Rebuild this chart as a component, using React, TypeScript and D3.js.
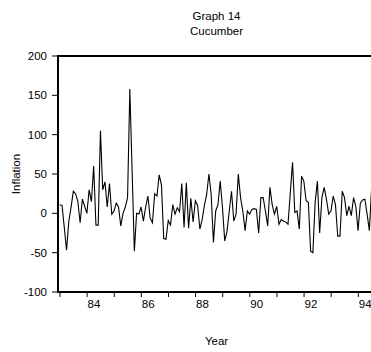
import React from "react";
import * as d3 from "d3";

const titleLines = ["Graph 14", "Cucumber"];
const yLabel = "Inflation";
const xLabel = "Year";
const startYear = 1983;
const yTicks = [-100, -50, 0, 50, 100, 150, 200];
const xMinorYears = [1983, 1984, 1985, 1986, 1987, 1988, 1989, 1990, 1991, 1992, 1993, 1994];
const xLabelYears = [1984, 1986, 1988, 1990, 1992, 1994];

const inflation = [
  11, 10, -18, -47, -10, 8, 28, 25, 15, -12, 18, 9, 0, 30, 15, 60, -15, -15, 105, 30,
  40, 8, 38, -1, 3, 13, 8, -16, 0, 8, 20, 158, 55, -48, 0, -1, 8, -10, 8, 22,
  -6, -12, 25,
  22, 49, 36, -32, -33, -9, -15, 11, -1, 7, 2, 38, -18, 39, -19, 19, -11, 16, 10, -20,
  -8, 10, 24, 50, 24, -37, 3, 11, 41, 7, -35, -23, 3, 28, -10, -1, 50, 20, 3, -22,
  3, -1, 5, 6, 5, -25, 20, 20,
  3, -16, 33, 11, -1, 9, -14, -8, -10, -11, -14, 26, 65, 1, 3, -20, 47, 41, 16, 14,
  -48, -50, 14, 41, -25, 20, 33, 18, -1, 3, 22, 11, -29, -29, 28, 20, -3, 9, -3, 20,
  9, -22, 13, 17, 18, -1, -22, 33,
];

export default function App() {
  const W = 371;
  const H = 352;
  const left = 58;
  const top = 56;
  const bottom = 292;
  const right = 376;
  const font = "'Liberation Sans', Arial, Helvetica, sans-serif";

  const x = d3.scaleLinear().domain([1983, 1994]).range([60, 358.3]);
  const y = d3.scaleLinear().domain([-100, 200]).range([bottom, top]);

  const pts = inflation.map((v, i) => ({ t: startYear + (i - 0.1) / 12, v }));
  const line = d3
    .line<{ t: number; v: number }>()
    .x((d) => x(d.t))
    .y((d) => y(d.v));

  return (
    <svg
      width={W}
      height={H}
      style={{ position: "absolute", left: 0, top: 0, background: "#fff" }}
      fontFamily={font}
    >
      <rect x={0} y={0} width={W} height={H} fill="#fff" />
      {titleLines.map((t, i) => (
        <text key={t} x={216.5} y={20 + i * 15} textAnchor="middle" fontSize={11.5} fill="#000">
          {t}
        </text>
      ))}
      <path d={line(pts) || ""} fill="none" stroke="#000" strokeWidth={1.1} strokeLinejoin="miter" />
      <line x1={left} y1={top} x2={right} y2={top} stroke="#000" strokeWidth={2} />
      <line x1={left} y1={top - 1} x2={left} y2={bottom + 1} stroke="#000" strokeWidth={2} />
      <line x1={left} y1={bottom} x2={right} y2={bottom} stroke="#000" strokeWidth={2} />
      {yTicks.map((t) => (
        <g key={t}>
          <line x1={52} x2={left} y1={y(t)} y2={y(t)} stroke="#000" strokeWidth={1} />
          <text x={47} y={y(t)} dy="0.35em" textAnchor="end" fontSize={11.5} fill="#000">
            {t}
          </text>
        </g>
      ))}
      {xMinorYears.map((yr) => (
        <line key={yr} x1={x(yr)} x2={x(yr)} y1={bottom} y2={bottom + 5} stroke="#000" strokeWidth={1} />
      ))}
      {xLabelYears.map((yr) => (
        <text key={yr} x={x(yr) + 0.5} y={308} textAnchor="start" fontSize={11.5} fill="#000">
          {String(yr).slice(2)}
        </text>
      ))}
      <text
        transform={`translate(20,${(top + bottom) / 2}) rotate(-90)`}
        textAnchor="middle"
        fontSize={11.5}
        fill="#000"
      >
        {yLabel}
      </text>
      <text x={216.5} y={345} textAnchor="middle" fontSize={11.5} fill="#000">
        {xLabel}
      </text>
    </svg>
  );
}
